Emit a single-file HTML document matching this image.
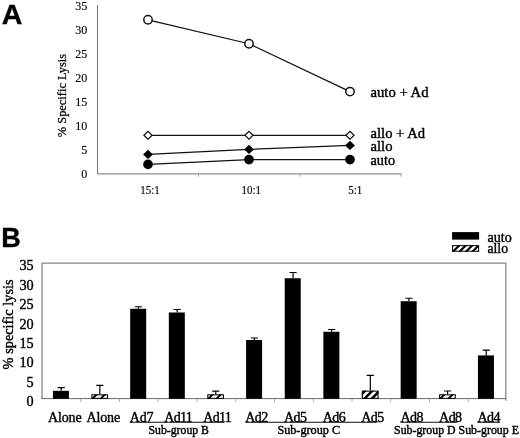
<!DOCTYPE html>
<html><head><meta charset="utf-8"><title>Figure</title>
<style>
html,body{margin:0;padding:0;background:#fff;}
svg{display:block;}
text{font-family:"Liberation Serif","DejaVu Serif",serif;fill:#000;stroke:#000;stroke-width:0.4px;}
.b{font-family:"Liberation Sans","DejaVu Sans",sans-serif;font-weight:bold;fill:#000;stroke:#000;stroke-width:0.35px;stroke-linejoin:round;}
.t{stroke-width:0.15px;}
.m{stroke-width:0.25px;}
</style></head><body>
<svg width="520" height="438" viewBox="0 0 520 438">
<rect width="520" height="438" fill="#fff"/>

<text class="b" transform="translate(1.8,24.4) scale(1.04,1)" font-size="27.5">A</text>
<path d="M97.5 5V174.1" fill="none" stroke="#606060" stroke-width="0.85"/>
<path d="M97.1 173.9H401.6" fill="none" stroke="#8c8c8c" stroke-width="1.3"/>
<path d="M198.5 174.3V176.7" stroke="#999" stroke-width="0.9"/>
<path d="M300 174.3V176.7" stroke="#999" stroke-width="0.9"/>
<path d="M401.2 174.3V176.7" stroke="#999" stroke-width="0.9"/>
<text transform="translate(87.2,177.75) scale(0.95,1)" font-size="12.7" text-anchor="end" class="t">0</text>
<text transform="translate(87.2,153.75) scale(0.95,1)" font-size="12.7" text-anchor="end" class="t">5</text>
<text transform="translate(87.2,129.75) scale(0.95,1)" font-size="12.7" text-anchor="end" class="t">10</text>
<text transform="translate(87.2,105.75) scale(0.95,1)" font-size="12.7" text-anchor="end" class="t">15</text>
<text transform="translate(87.2,81.75) scale(0.95,1)" font-size="12.7" text-anchor="end" class="t">20</text>
<text transform="translate(87.2,57.75) scale(0.95,1)" font-size="12.7" text-anchor="end" class="t">25</text>
<text transform="translate(87.2,33.75) scale(0.95,1)" font-size="12.7" text-anchor="end" class="t">30</text>
<text transform="translate(87.2,9.75) scale(0.95,1)" font-size="12.7" text-anchor="end" class="t">35</text>
<text transform="translate(65.5,95.5) rotate(-90)" font-size="12.4" text-anchor="middle" class="m">% Specific Lysis</text>
<text transform="translate(140.3,194) scale(0.93,1)" font-size="11.8" class="t">15:1</text>
<text transform="translate(241.6,194) scale(0.93,1)" font-size="11.8" class="t">10:1</text>
<text transform="translate(348.3,194) scale(0.93,1)" font-size="11.8" class="t">5:1</text>
<polyline points="148,19.8 249,43.75 350,91.6" fill="none" stroke="#111" stroke-width="1.25"/>
<circle cx="148" cy="19.8" r="4.2" fill="#fff" stroke="#111" stroke-width="1.45"/>
<circle cx="249" cy="43.75" r="4.2" fill="#fff" stroke="#111" stroke-width="1.45"/>
<circle cx="350" cy="91.6" r="4.2" fill="#fff" stroke="#111" stroke-width="1.45"/>
<polyline points="148,135.3 249,135.3 350,135.3" fill="none" stroke="#111" stroke-width="1.25"/>
<path d="M143.9 135.3L148 131.4L152.1 135.3L148 139.2Z" fill="#fff" stroke="#111" stroke-width="1.2"/>
<path d="M244.9 135.3L249 131.4L253.1 135.3L249 139.2Z" fill="#fff" stroke="#111" stroke-width="1.2"/>
<path d="M345.9 135.3L350 131.4L354.1 135.3L350 139.2Z" fill="#fff" stroke="#111" stroke-width="1.2"/>
<polyline points="148,154.4 249,149.4 350,145.4" fill="none" stroke="#111" stroke-width="1.25"/>
<path d="M143.1 154.4L148 149.8L152.9 154.4L148 159Z" fill="#000"/>
<path d="M244.1 149.4L249 144.8L253.9 149.4L249 154Z" fill="#000"/>
<path d="M345.1 145.4L350 140.8L354.9 145.4L350 150Z" fill="#000"/>
<polyline points="148,164.4 249,159.6 350,159.6" fill="none" stroke="#111" stroke-width="1.25"/>
<circle cx="148" cy="164.4" r="4.85" fill="#000"/>
<circle cx="249" cy="159.6" r="4.85" fill="#000"/>
<circle cx="350" cy="159.6" r="4.85" fill="#000"/>
<text x="370.5" y="97.3" font-size="14.2" textLength="58" lengthAdjust="spacingAndGlyphs">auto + Ad</text>
<text x="370.5" y="138.4" font-size="14.2" textLength="54.6" lengthAdjust="spacingAndGlyphs">allo + Ad</text>
<text x="370.5" y="151.3" font-size="14.2" textLength="22" lengthAdjust="spacingAndGlyphs">allo</text>
<text x="370.5" y="164.8" font-size="14.2" textLength="24.5" lengthAdjust="spacingAndGlyphs">auto</text>
<text class="b" transform="translate(1.3,246.5) scale(1.0,1)" font-size="27">B</text>
<path d="M42 398.8V263.2H505.8V400.8" fill="none" stroke="#858585" stroke-width="1.25"/>
<path d="M41.4 398.6H506.3" fill="none" stroke="#686868" stroke-width="1"/>
<text transform="translate(33.7,406.06) scale(0.93,1)" font-size="15.3" text-anchor="end">0</text>
<text transform="translate(33.7,386.68) scale(0.93,1)" font-size="15.3" text-anchor="end">5</text>
<text transform="translate(33.7,367.3) scale(0.93,1)" font-size="15.3" text-anchor="end">10</text>
<text transform="translate(33.7,347.92) scale(0.93,1)" font-size="15.3" text-anchor="end">15</text>
<text transform="translate(33.7,328.54) scale(0.93,1)" font-size="15.3" text-anchor="end">20</text>
<text transform="translate(33.7,309.16) scale(0.93,1)" font-size="15.3" text-anchor="end">25</text>
<text transform="translate(33.7,289.78) scale(0.93,1)" font-size="15.3" text-anchor="end">30</text>
<text transform="translate(33.7,270.4) scale(0.93,1)" font-size="15.3" text-anchor="end">35</text>
<text transform="translate(12.5,324.4) rotate(-90)" font-size="15" text-anchor="middle" textLength="90" lengthAdjust="spacingAndGlyphs">% specific lysis</text>
<rect x="52.9" y="390.8" width="16" height="8" fill="#000"/>
<path d="M61.2 390.8V387.7M57.6 387.7H64.8" stroke="#000" stroke-width="1.2" fill="none"/>
<text x="48" y="421.8" font-size="14" textLength="33.6" lengthAdjust="spacing">Alone</text>
<clipPath id="c1"><rect x="91.34" y="394.3" width="16.7" height="4.6"/></clipPath>
<rect x="91.34" y="394.3" width="16.7" height="4.6" fill="#fff"/>
<path d="M82.69 398.9L87.29 394.3L89.99 394.3L85.39 398.9ZM90.89 398.9L95.49 394.3L98.19 394.3L93.59 398.9ZM99.09 398.9L103.69 394.3L106.39 394.3L101.79 398.9ZM107.29 398.9L111.89 394.3L114.59 394.3L109.99 398.9Z" fill="#000" clip-path="url(#c1)"/>
<rect x="91.86" y="394.82" width="15.65" height="3.55" fill="none" stroke="#000" stroke-width="1.05"/>
<path d="M99.84 394.2V385.4M96.24 385.4H103.44" stroke="#000" stroke-width="1.2" fill="none"/>
<text x="86.5" y="421.8" font-size="14" textLength="33.6" lengthAdjust="spacing">Alone</text>
<path d="M80.75 398.8V402.0" stroke="#aaa" stroke-width="1"/>
<rect x="130.18" y="308.75" width="16" height="90.05" fill="#000"/>
<path d="M138.48 308.75V306.75M134.88 306.75H142.08" stroke="#000" stroke-width="1.2" fill="none"/>
<text x="129.8" y="421.8" font-size="14" textLength="23.8" lengthAdjust="spacing">Ad7</text>
<path d="M119.5 398.8V402.0" stroke="#aaa" stroke-width="1"/>
<rect x="168.82" y="312.5" width="16" height="86.3" fill="#000"/>
<path d="M177.12 312.5V309.5M173.52 309.5H180.72" stroke="#000" stroke-width="1.2" fill="none"/>
<text x="164.2" y="421.8" font-size="14" textLength="28.6" lengthAdjust="spacing">Ad11</text>
<path d="M158.25 398.8V402.0" stroke="#aaa" stroke-width="1"/>
<clipPath id="c2"><rect x="207.26" y="394.3" width="16.7" height="4.6"/></clipPath>
<rect x="207.26" y="394.3" width="16.7" height="4.6" fill="#fff"/>
<path d="M198.61 398.9L203.21 394.3L205.91 394.3L201.31 398.9ZM206.81 398.9L211.41 394.3L214.11 394.3L209.51 398.9ZM215.01 398.9L219.61 394.3L222.31 394.3L217.71 398.9ZM223.21 398.9L227.81 394.3L230.51 394.3L225.91 398.9Z" fill="#000" clip-path="url(#c2)"/>
<rect x="207.79" y="394.82" width="15.65" height="3.55" fill="none" stroke="#000" stroke-width="1.05"/>
<path d="M215.76 394.2V391.1M212.16 391.1H219.36" stroke="#000" stroke-width="1.2" fill="none"/>
<text x="203.2" y="421.8" font-size="14" textLength="28.6" lengthAdjust="spacing">Ad11</text>
<path d="M197 398.8V402.0" stroke="#aaa" stroke-width="1"/>
<rect x="246.1" y="340" width="16" height="58.8" fill="#000"/>
<path d="M254.4 340V338M250.8 338H258" stroke="#000" stroke-width="1.2" fill="none"/>
<text x="245.3" y="421.8" font-size="14" textLength="23" lengthAdjust="spacing">Ad2</text>
<path d="M235.75 398.8V402.0" stroke="#aaa" stroke-width="1"/>
<rect x="284.74" y="278.25" width="16" height="120.55" fill="#000"/>
<path d="M293.04 278.25V272.5M289.44 272.5H296.64" stroke="#000" stroke-width="1.2" fill="none"/>
<text x="284" y="421.8" font-size="14" textLength="23" lengthAdjust="spacing">Ad5</text>
<path d="M274.5 398.8V402.0" stroke="#aaa" stroke-width="1"/>
<rect x="323.38" y="331.75" width="16" height="67.05" fill="#000"/>
<path d="M331.68 331.75V329.5M328.08 329.5H335.28" stroke="#000" stroke-width="1.2" fill="none"/>
<text x="322.8" y="421.8" font-size="14" textLength="23" lengthAdjust="spacing">Ad6</text>
<path d="M313.25 398.8V402.0" stroke="#aaa" stroke-width="1"/>
<clipPath id="c3"><rect x="361.82" y="390.6" width="16.7" height="8.3"/></clipPath>
<rect x="361.82" y="390.6" width="16.7" height="8.3" fill="#fff"/>
<path d="M355.27 398.9L363.57 390.6L367.07 390.6L358.77 398.9ZM362.52 398.9L370.82 390.6L374.32 390.6L366.02 398.9ZM369.77 398.9L378.07 390.6L381.57 390.6L373.27 398.9ZM377.02 398.9L385.32 390.6L388.82 390.6L380.52 398.9ZM384.27 398.9L392.57 390.6L396.07 390.6L387.77 398.9Z" fill="#000" clip-path="url(#c3)"/>
<rect x="362.34" y="391.12" width="15.65" height="7.25" fill="none" stroke="#000" stroke-width="1.05"/>
<path d="M370.32 390.5V375.4M366.72 375.4H373.92" stroke="#000" stroke-width="1.2" fill="none"/>
<text x="361.2" y="421.8" font-size="14" textLength="23" lengthAdjust="spacing">Ad5</text>
<path d="M352 398.8V402.0" stroke="#aaa" stroke-width="1"/>
<rect x="400.66" y="301.25" width="16" height="97.55" fill="#000"/>
<path d="M408.96 301.25V298.25M405.36 298.25H412.56" stroke="#000" stroke-width="1.2" fill="none"/>
<text x="400.4" y="421.8" font-size="14" textLength="23" lengthAdjust="spacing">Ad8</text>
<path d="M390.75 398.8V402.0" stroke="#aaa" stroke-width="1"/>
<clipPath id="c4"><rect x="439.1" y="394.3" width="16.7" height="4.6"/></clipPath>
<rect x="439.1" y="394.3" width="16.7" height="4.6" fill="#fff"/>
<path d="M430.45 398.9L435.05 394.3L437.75 394.3L433.15 398.9ZM438.65 398.9L443.25 394.3L445.95 394.3L441.35 398.9ZM446.85 398.9L451.45 394.3L454.15 394.3L449.55 398.9ZM455.05 398.9L459.65 394.3L462.35 394.3L457.75 398.9Z" fill="#000" clip-path="url(#c4)"/>
<rect x="439.62" y="394.82" width="15.65" height="3.55" fill="none" stroke="#000" stroke-width="1.05"/>
<path d="M447.6 394.2V391M444 391H451.2" stroke="#000" stroke-width="1.2" fill="none"/>
<text x="439.1" y="421.8" font-size="14" textLength="23" lengthAdjust="spacing">Ad8</text>
<path d="M429.5 398.8V402.0" stroke="#aaa" stroke-width="1"/>
<rect x="477.94" y="355.4" width="16" height="43.4" fill="#000"/>
<path d="M486.24 355.4V350.2M482.64 350.2H489.84" stroke="#000" stroke-width="1.2" fill="none"/>
<text x="477.4" y="421.8" font-size="14" textLength="23" lengthAdjust="spacing">Ad4</text>
<path d="M468.25 398.8V402.0" stroke="#aaa" stroke-width="1"/>
<path d="M130 422.2H224" stroke="#111" stroke-width="1.15"/>
<path d="M245.5 422.2H376.5" stroke="#111" stroke-width="1.15"/>
<path d="M400.5 422.2H457.5" stroke="#111" stroke-width="1.15"/>
<path d="M477.5 422.2H500" stroke="#111" stroke-width="1.15"/>
<text x="148.6" y="434.2" font-size="11.6" textLength="60.3" lengthAdjust="spacingAndGlyphs">Sub-group B</text>
<text x="277.4" y="434.2" font-size="11.6" textLength="62.7" lengthAdjust="spacingAndGlyphs">Sub-group C</text>
<text x="394.1" y="434.2" font-size="11.6" textLength="61.5" lengthAdjust="spacingAndGlyphs">Sub-group D</text>
<text x="458.6" y="434.2" font-size="11.6" textLength="60.3" lengthAdjust="spacingAndGlyphs">Sub-group E</text>
<rect x="452.1" y="232.1" width="27" height="7.5" fill="#000"/>
<clipPath id="c5"><rect x="452.1" y="245.15" width="27" height="6.55"/></clipPath>
<rect x="452.1" y="245.15" width="27" height="6.55" fill="#fff"/>
<path d="M444.9 251.7L451.45 245.15L454.45 245.15L447.9 251.7ZM451.4 251.7L457.95 245.15L460.95 245.15L454.4 251.7ZM457.9 251.7L464.45 245.15L467.45 245.15L460.9 251.7ZM464.4 251.7L470.95 245.15L473.95 245.15L467.4 251.7ZM470.9 251.7L477.45 245.15L480.45 245.15L473.9 251.7ZM477.4 251.7L483.95 245.15L486.95 245.15L480.4 251.7Z" fill="#000" clip-path="url(#c5)"/>
<rect x="452.6" y="245.65" width="26" height="5.55" fill="none" stroke="#000" stroke-width="1.0"/>
<text x="487.5" y="241.6" font-size="14.5" textLength="24.3" lengthAdjust="spacingAndGlyphs">auto</text>
<text x="487.5" y="253.3" font-size="14.5" textLength="20.5" lengthAdjust="spacingAndGlyphs">allo</text>
</svg></body></html>
